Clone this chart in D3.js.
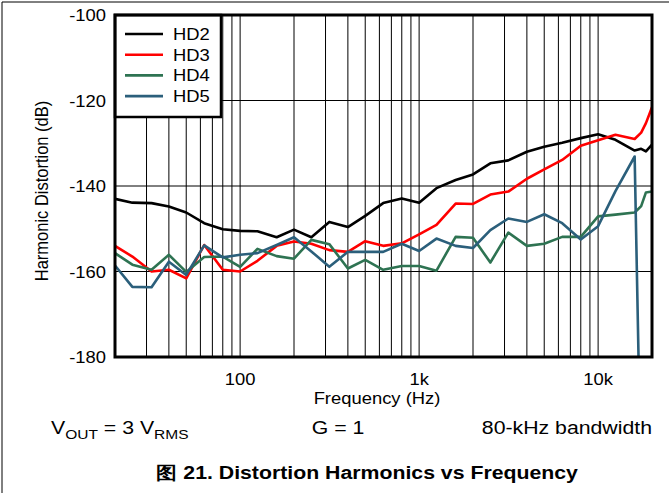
<!DOCTYPE html>
<html>
<head>
<meta charset="utf-8">
<script src="https://cdn.jsdelivr.net/npm/d3@7"></script>
<style>
  body { margin: 0; background: #fff; }
  text { font-family: "Liberation Sans", Arial, sans-serif; fill: #000; }
</style>
</head>
<body>
<script>
var width = 669,
    height = 493;

// test frequencies (Hz)
var freqs = [20, 25, 32, 40, 50, 63, 80, 100, 125, 160, 200, 250, 315, 400, 500, 630, 800,
             1000, 1250, 1600, 2000, 2500, 3150, 4000, 5000, 6300, 8000, 10000, 12500, 16000,
             17400, 18500, 20000];

var hd2 = [-143.0, -143.9, -144.0, -144.8, -146.2, -148.7, -150.1, -150.5, -150.6, -152.0, -150.2,
           -152.0, -148.4, -149.6, -147.0, -144.0, -142.9, -143.9, -140.5, -138.6, -137.3, -134.7,
           -134.0, -132.0, -130.8, -129.9, -128.8, -127.9, -129.2, -131.7, -131.3, -131.9, -130.3];
var hd3 = [-154.0, -156.5, -160.0, -159.6, -161.6, -153.8, -159.6, -160.0, -157.5, -154.0, -153.0,
           -153.5, -155.0, -155.4, -152.9, -154.0, -153.4, -151.3, -149.1, -144.1, -144.2, -142.0,
           -141.3, -138.3, -136.1, -133.9, -130.6, -129.3, -128.0, -129.0, -127.5, -125.3, -121.6];
var hd4 = [-155.7, -158.4, -159.6, -156.1, -160.1, -156.6, -156.5, -158.9, -154.7, -156.4, -157.0,
           -152.6, -153.6, -159.3, -157.3, -159.6, -158.7, -158.7, -159.8, -151.9, -152.1, -157.9,
           -150.9, -154.0, -153.5, -151.9, -151.9, -147.1, -146.7, -146.2, -144.7, -141.5, -141.3];
var hd5 = [-158.6, -163.6, -163.7, -157.7, -160.8, -153.9, -156.7, -156.1, -155.7, -153.8, -152.0,
           -155.3, -158.9, -155.4, -155.4, -155.4, -153.5, -155.2, -152.3, -154.0, -154.5, -150.3,
           -147.6, -148.4, -146.6, -148.7, -152.5, -149.4, -141.2, -133.1, -212.0, null, null];

var seriesNames = ["HD2", "HD3", "HD4", "HD5"];
var seriesColors = ["#000000", "#ff0000", "#2e7352", "#2b5f7b"];
var seriesValues = [hd2, hd3, hd4, hd5];

var yTicks = [-100, -120, -140, -160, -180];
var xTickVals = [100, 1000, 10000];
var xTickLabels = ["100", "1k", "10k"];

var plot = {left: 115, top: 15, right: 652, bottom: 357};
var stretch = 1.15;   // text in the original figure is a bit wider than tall

var x = d3.scaleLog()
    .domain([20, 20000])
    .range([plot.left, plot.right]);

var y = d3.scaleLinear()
    .domain([-180, -100])
    .range([plot.bottom, plot.top]);

var svg = d3.select("body").append("svg")
    .attr("width", width)
    .attr("height", height);

// helper for horizontally stretched text
function label(parent, px, py, str, anchor, size, weight) {
  return parent.append("text")
    .attr("transform", "translate(" + px + "," + py + ") scale(" + stretch + ",1)")
    .attr("text-anchor", anchor || "start")
    .style("font-size", (size || 16) + "px")
    .style("font-weight", weight || "normal")
    .text(str);
}

// page frame (top and left edges only)
svg.append("line").attr("x1", 2).attr("x2", width).attr("y1", 2).attr("y2", 2)
   .attr("stroke", "#000").attr("stroke-width", 1);
svg.append("line").attr("x1", 2).attr("x2", 2).attr("y1", 2).attr("y2", height)
   .attr("stroke", "#000").attr("stroke-width", 1);

svg.append("defs").append("clipPath").attr("id", "clip")
  .append("rect")
    .attr("x", plot.left).attr("y", plot.top)
    .attr("width", plot.right - plot.left).attr("height", plot.bottom - plot.top);

// grid
var grid = svg.append("g");
var minorTicks = x.ticks().filter(function(d) { return d > 20 && d < 20000; });
grid.selectAll("line.v")
  .data(minorTicks)
  .enter().append("line")
    .attr("class", "v")
    .attr("x1", function(d) { return x(d); })
    .attr("x2", function(d) { return x(d); })
    .attr("y1", plot.top)
    .attr("y2", plot.bottom)
    .attr("stroke", "#000")
    .attr("stroke-width", 1);

grid.selectAll("line.h")
  .data(yTicks.slice(1, -1))
  .enter().append("line")
    .attr("class", "h")
    .attr("x1", plot.left)
    .attr("x2", plot.right)
    .attr("y1", function(d) { return y(d); })
    .attr("y2", function(d) { return y(d); })
    .attr("stroke", "#000")
    .attr("stroke-width", 1);

// data lines
var line = d3.line()
    .defined(function(d) { return d[1] != null; })
    .x(function(d) { return x(d[0]); })
    .y(function(d) { return y(d[1]); });

var lines = svg.append("g").attr("clip-path", "url(#clip)");
seriesValues.forEach(function(vals, i) {
  var pts = freqs.map(function(f, j) { return [f, vals[j]]; });
  lines.append("path")
    .datum(pts)
    .attr("d", line)
    .attr("fill", "none")
    .attr("stroke", seriesColors[i])
    .attr("stroke-width", 2.6)
    .attr("stroke-linejoin", "round");
});

// legend
var legend = svg.append("g");
legend.append("rect")
  .attr("x", plot.left).attr("y", plot.top)
  .attr("width", 106).attr("height", 102)
  .attr("fill", "#fff")
  .attr("stroke", "#000")
  .attr("stroke-width", 2.5);
seriesNames.forEach(function(name, i) {
  var ly = 34 + i * 20.7;
  legend.append("line")
    .attr("x1", 125).attr("x2", 163)
    .attr("y1", ly).attr("y2", ly)
    .attr("stroke", seriesColors[i])
    .attr("stroke-width", 2.6);
  label(legend, 173, ly + 6, name, "start", 16);
});

// plot border
svg.append("rect")
  .attr("x", plot.left).attr("y", plot.top)
  .attr("width", plot.right - plot.left).attr("height", plot.bottom - plot.top)
  .attr("fill", "none")
  .attr("stroke", "#000")
  .attr("stroke-width", 3);

// axis labels
yTicks.forEach(function(t) {
  label(svg, 106, y(t) + 6, String(t), "end", 16);
});
xTickVals.forEach(function(t, i) {
  label(svg, x(t), 385, xTickLabels[i], "middle", 16);
});

label(svg, 377, 404, "Frequency (Hz)", "middle", 16);

svg.append("text")
  .attr("transform", "translate(48,191) scale(" + stretch + ",1) rotate(-90)")
  .attr("text-anchor", "middle")
  .style("font-size", "16.5px")
  .text("Harmonic Distortion (dB)");

// test conditions
var vout = label(svg, 51, 434, "V", "start", 18.5);
vout.append("tspan").attr("dy", 5).style("font-size", "13.5px").text("OUT");
vout.append("tspan").attr("dy", -5).text(" = 3 V");
vout.append("tspan").attr("dy", 5).style("font-size", "13.5px").text("RMS");

label(svg, 338, 434, "G = 1", "middle", 18.5);
label(svg, 652, 434, "80-kHz bandwidth", "end", 18.5);

// caption
label(svg, 367, 479, "图 21. Distortion Harmonics vs Frequency", "middle", 18.5, "bold");
</script>
</body>
</html>
